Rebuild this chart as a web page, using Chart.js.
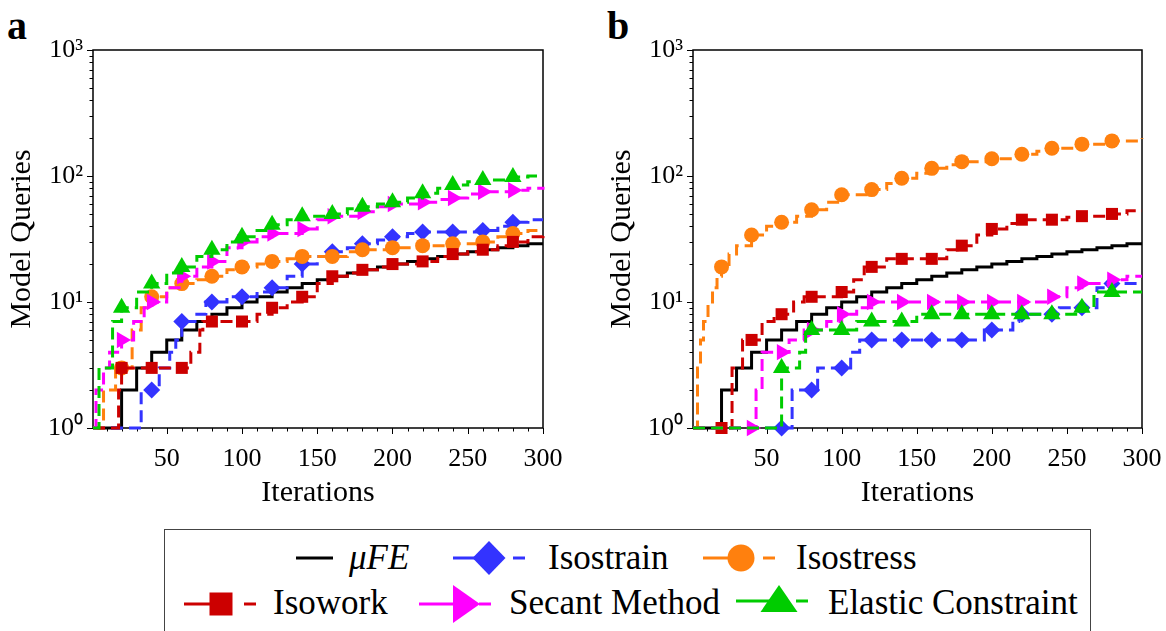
<!DOCTYPE html>
<html>
<head>
<meta charset="utf-8">
<script src="https://cdn.jsdelivr.net/npm/chart.js@4.4.1/dist/chart.umd.min.js"></script>
<style>
html,body{margin:0;padding:0;background:#fff;width:1166px;height:631px;overflow:hidden;font-family:'Liberation Serif','Times New Roman',serif;color:#000;}
.wrap{position:absolute;top:0;height:515px;}
#wa{left:0;width:580px;}
#wb{left:600px;width:566px;}
.plabel{position:absolute;font-weight:bold;font-size:40px;line-height:1;}
#legend{position:absolute;left:164px;top:529px;width:927px;height:120px;border:1.5px solid #444;box-sizing:border-box;}
.lt{position:absolute;font-size:35px;line-height:1;white-space:nowrap;}
.lh{position:absolute;}
</style>
</head>
<body>
<div class="plabel" style="left:7px;top:6px;">a</div>
<div class="plabel" style="left:607px;top:6px;">b</div>
<div class="wrap" id="wa"><canvas id="ca"></canvas></div>
<div class="wrap" id="wb"><canvas id="cb"></canvas></div>
<div id="legend"></div>
<script>
// ---------------- data (iteration, model queries) ----------------
const feQueries = [[1,1],[20,2],[30,3],[40,4],[50,5],[60,6],[70,7],[80,8],[90,9],[100,10],[110,11],[120,12],[130,13],[140,14],[150,15],[160,16],[170,17],[180,18],[190,19],[200,20],[210,21],[220,22],[230,23],[240,24],[250,25],[260,26],[270,27],[280,28],[290,29],[300,29]];

// panel a
const isostrainA = [[1,1],[33,2],[40,2],[45,3],[52,4],[56,5],[60,7],[70,8],[76,10],[80,10],[90,11],[100,11],[110,12],[120,13],[130,16],[140,20],[150,23],[160,25],[170,27],[180,29],[190,31],[200,33],[210,35],[220,36],[240,36],[260,37],[270,40],[280,43],[290,45],[300,45]];
const isostressA = [[1,1],[8,2],[16,3],[20,3],[27,6],[33,9],[40,11],[50,13],[60,14],[70,15],[80,16],[90,18],[100,19],[110,20],[120,21],[130,22],[140,23],[160,23],[170,25],[180,26],[200,27],[220,28],[240,29],[260,30],[270,33],[280,35],[290,37],[300,37]];
const isoworkA = [[1,1],[18,2],[20,3],[40,3],[60,3],[66,4],[72,6],[74,7],[80,7],[100,7],[110,8],[120,9],[130,10],[140,11],[150,14],[160,16],[170,17],[180,18],[190,19],[200,20],[220,21],[230,23],[240,24],[250,25],[260,26],[270,28],[280,30],[290,33],[300,35]];
const secantA = [[1,1],[3,2],[8,3],[12,4],[20,5],[28,7],[35,9],[40,10],[50,13],[60,16],[70,19],[80,21],[90,27],[100,30],[110,33],[120,35],[140,38],[150,45],[160,48],[180,52],[190,57],[200,60],[220,62],[230,65],[240,67],[250,72],[260,75],[280,77],[290,80],[300,82]];
const elasticA = [[1,1],[5,3],[14,7],[20,9],[30,12],[40,14],[50,17],[60,19],[70,23],[80,26],[90,30],[100,33],[110,37],[120,41],[130,45],[140,48],[160,50],[170,55],[180,57],[190,60],[200,62],[210,67],[220,73],[230,80],[240,85],[250,90],[260,93],[280,98],[290,100],[300,100]];

// panel b
const isostrainB = [[1,1],[60,1],[67,2],[80,2],[84,3],[100,3],[106,4],[112,5],[120,5],[140,5],[160,5],[180,5],[195,6],[200,6],[214,7],[218,8],[220,8],[240,8],[245,9],[260,9],[270,13],[280,14],[300,14]];
const isostressB = [[1,1],[3,1],[4,3],[6,5],[8,7],[11,10],[14,13],[17,16],[20,19],[25,24],[30,28],[40,34],[50,40],[60,43],[70,48],[80,54],[90,62],[100,71],[120,78],[130,87],[140,96],[150,105],[160,115],[170,123],[180,130],[200,137],[220,149],[230,157],[240,166],[260,179],[280,190],[300,199]];
const isoworkB = [[1,1],[20,1],[27,3],[34,5],[40,5],[47,7],[55,8],[60,8],[68,10],[75,11],[80,11],[100,12],[108,15],[115,19],[120,19],[130,22],[140,22],[160,22],[170,26],[180,28],[190,34],[200,38],[210,42],[220,45],[240,45],[250,47],[260,48],[280,50],[290,53],[300,53]];
const secantB = [[1,1],[40,1],[43,2],[47,4],[60,4],[65,5],[75,6],[80,6],[90,7],[100,8],[110,9],[120,10],[140,10],[160,10],[180,10],[200,10],[220,10],[240,11],[250,13],[260,14],[280,15],[290,16],[300,16]];
const elasticB = [[1,1],[57,1],[60,3],[72,4],[76,6],[80,6],[100,6],[110,7],[120,7],[140,7],[150,8],[160,8],[180,8],[200,8],[220,8],[240,8],[260,9],[268,12],[280,12],[300,12]];

// ticks
const xTickValues = [50,100,150,200,250,300];
const yTickValues = [1,10,100,1000];
const yTickLabels = ['10\u2070','10\u00B9','10\u00B2','10\u00B3'];
const seriesLabels = ['\u03BCFE','Isostrain','Isostress','Isowork','Secant Method','Elastic Constraint'];

// ---------------- styles ----------------
const STY = [
  {color:'#000000', dash:[],     style:false,     r:0,   rot:0},
  {color:'#3333ff', dash:[12,6], style:'rectRot', r:8.5, rot:0},
  {color:'#ff800e', dash:[12,6], style:'circle',  r:7.5, rot:0},
  {color:'#cc0000', dash:[12,6], style:'rect',    r:8.5, rot:0},
  {color:'#ff00ff', dash:[12,6], style:'triangle',r:9.5, rot:90},
  {color:'#00cc00', dash:[12,6], style:'triangle',r:10,  rot:0}
];
const FONT = "'Liberation Serif','Times New Roman',serif";

function mkDatasets(list){
  return list.map((pts,i)=>{
    const s = STY[i];
    return {
      label: seriesLabels[i],
      data: pts.map(p=>({x:p[0], y:p[1]})),
      borderColor: s.color,
      backgroundColor: s.color,
      borderWidth: 3,
      borderDash: s.dash,
      borderCapStyle: 'butt',
      stepped: 'before',
      pointStyle: s.style || 'circle',
      pointRotation: s.rot,
      pointBorderWidth: 0,
      pointRadius: ctx => (s.r && ctx.raw && ctx.raw.x % 20 === 0 && ctx.raw.x < 300) ? s.r : 0,
      pointHoverRadius: 0,
      clip: false,
      order: 5 - i
    };
  });
}

const framePlugin = {
  id:'frame',
  beforeDatasetsDraw(chart){
    const {ctx, chartArea:a, scales:{x,y}} = chart;
    ctx.save();
    ctx.strokeStyle = '#000';
    ctx.lineWidth = 1.5;
    ctx.strokeRect(a.left, a.top, a.right-a.left, a.bottom-a.top);
    ctx.lineWidth = 1;
    ctx.beginPath();
    for (let d=0; d<3; d++){
      for (let k=1; k<=9; k++){
        const v = k*Math.pow(10,d);
        const py = Math.round(y.getPixelForValue(v))+0.5;
        const len = k===1 ? 6 : 3.5;
        ctx.moveTo(a.left-len, py); ctx.lineTo(a.left, py);
      }
    }
    const pt = Math.round(y.getPixelForValue(1000))+0.5;
    ctx.moveTo(a.left-6, pt); ctx.lineTo(a.left, pt);
    for (let v=10; v<=300; v+=10){
      const px = Math.round(x.getPixelForValue(v))+0.5;
      const len = v%50===0 ? 6 : 3.5;
      ctx.moveTo(px, a.bottom); ctx.lineTo(px, a.bottom+len);
    }
    ctx.stroke();
    ctx.restore();
  }
};

function mkChart(id, list, rightPad){
  return new Chart(document.getElementById(id), {
    type:'line',
    data:{datasets: mkDatasets(list)},
    options:{
      responsive:true, maintainAspectRatio:false, animation:false,
      layout:{padding:{top:50, right:rightPad, left:0, bottom:0}},
      plugins:{legend:{display:false}, tooltip:{enabled:false}},
      events:[],
      scales:{
        x:{
          type:'linear', min:1, max:300,
          grid:{display:false, drawTicks:false},
          border:{display:false},
          afterBuildTicks: sc => { sc.ticks = xTickValues.map(v=>({value:v})); },
          afterFit: sc => { sc.height = 87; sc.paddingLeft = 0; sc.paddingRight = 0; },
          ticks:{color:'#000', font:{family:FONT, size:26}, padding:16, maxRotation:0, autoSkip:false},
          title:{display:true, text:'Iterations', color:'#000', font:{family:FONT, size:30}, padding:{top:0, bottom:4}}
        },
        y:{
          type:'logarithmic', min:1, max:1000,
          grid:{display:false, drawTicks:false},
          border:{display:false},
          afterBuildTicks: sc => { sc.ticks = yTickValues.map(v=>({value:v})); },
          afterFit: sc => { sc.width = 93; sc.paddingTop = 0; sc.paddingBottom = 0; },
          ticks:{color:'#000', font:{family:FONT, size:26}, padding:10, autoSkip:false,
                 callback: v => { const i = yTickValues.indexOf(v); return i>=0 ? yTickLabels[i] : ''; }},
          title:{display:true, text:'Model Queries', color:'#000', font:{family:FONT, size:30}, padding:{top:4, bottom:0}}
        }
      }
    },
    plugins:[framePlugin]
  });
}

mkChart('ca', [feQueries, isostrainA, isostressA, isoworkA, secantA, elasticA], 37);
mkChart('cb', [feQueries, isostrainB, isostressB, isoworkB, secantB, elasticB], 24);

// ---------------- legend (HTML) ----------------
const lg = document.getElementById('legend');
const L0 = 164, T0 = 529;
function handleSVG(i){
  const c = STY[i].color;
  if (i===0) return `<svg width="38" height="40"><line x1="0" y1="20" x2="37" y2="20" stroke="${c}" stroke-width="3"/></svg>`;
  let m = '';
  let mx = 37;
  if (i===1) m = `<polygon points="36,3 52.5,20 36,37 19.5,20" fill="${c}"/>`;
  if (i===2) m = `<circle cx="38" cy="20" r="13.5" fill="${c}"/>`;
  if (i===3) m = `<rect x="25.5" y="8.5" width="23" height="23" fill="${c}"/>`;
  if (i===4) { m = `<polygon points="34,1 61,20 34,39" fill="${c}"/>`; mx = 40; }
  if (i===5) m = `<polygon points="43,4 24.5,31 61.5,31" fill="${c}"/>`;
  return `<svg width="74" height="40"><line x1="0" y1="20" x2="${mx}" y2="20" stroke="${c}" stroke-width="3"/>${m}<line x1="60" y1="20" x2="72" y2="20" stroke="${c}" stroke-width="3"/></svg>`;
}
const legendPos = [
  {hx:295, tx:348, cy:557, top:539},
  {hx:452, tx:547, cy:557, top:539},
  {hx:702, tx:795, cy:557, top:539},
  {hx:183, tx:272, cy:603, top:584},
  {hx:418, tx:508, cy:603, top:584},
  {hx:735, tx:827, cy:600, top:584}
];
seriesLabels.forEach((lab,i)=>{
  const p = legendPos[i];
  const h = document.createElement('div');
  h.className = 'lh';
  h.style.left = (p.hx - L0) + 'px';
  h.style.top = (p.cy - 20 - T0) + 'px';
  h.innerHTML = handleSVG(i);
  lg.appendChild(h);
  const t = document.createElement('div');
  t.className = 'lt';
  t.style.left = (p.tx - L0) + 'px';
  t.style.top = (p.top - T0) + 'px';
  if (i===0) t.style.fontStyle = 'italic';
  t.textContent = lab;
  lg.appendChild(t);
});
</script>
</body>
</html>
